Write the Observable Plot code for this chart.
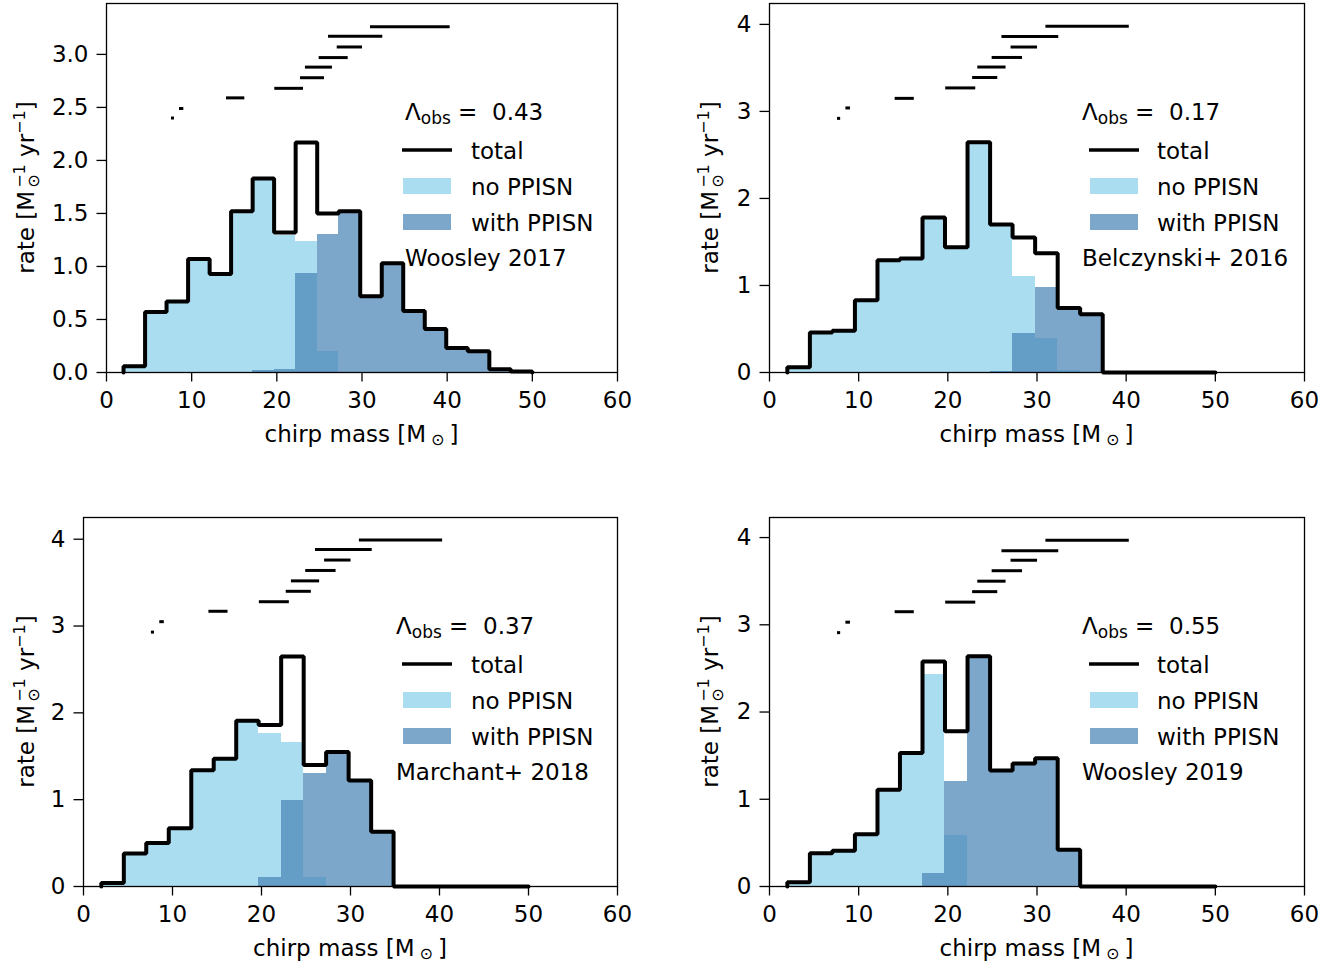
<!DOCTYPE html>
<html><head><meta charset="utf-8">
<script src="https://cdn.jsdelivr.net/npm/d3@7"></script>
<script src="https://cdn.jsdelivr.net/npm/@observablehq/plot@0.6"></script>
<style>
body{margin:0;background:#fff;}
#fig{position:relative;width:1336px;height:966px;font-family:"DejaVu Sans",sans-serif;background:#fff;}
#fig svg{position:absolute;left:0;top:0;overflow:visible;}
</style></head><body><div id="fig"></div>
<script>
// ---- data ----
const binEdges = [2.00, 4.53, 7.05, 9.58, 12.11, 14.63, 17.16, 19.68, 22.21, 24.74, 27.26, 29.79, 32.32, 34.84, 37.37, 39.89, 42.42, 44.95, 47.47, 50.00];

const noPPISN_W17   = [0.06, 0.57, 0.67, 1.07, 0.93, 1.52, 1.81, 1.29, 1.24, 0.20, 0, 0, 0, 0, 0, 0, 0, 0, 0];
const withPPISN_W17 = [0, 0, 0, 0, 0, 0, 0.02, 0.03, 0.93, 1.30, 1.52, 0.72, 1.03, 0.58, 0.41, 0.23, 0.20, 0.03, 0.01];

const noPPISN_B16   = [0.06, 0.46, 0.48, 0.83, 1.29, 1.31, 1.78, 1.44, 2.64, 1.69, 1.10, 0.39, 0.02, 0, 0, 0, 0, 0, 0];
const withPPISN_B16 = [0, 0, 0, 0, 0, 0, 0, 0, 0.005, 0.01, 0.45, 0.98, 0.72, 0.67, 0, 0, 0, 0, 0];

const noPPISN_M18   = [0.04, 0.38, 0.50, 0.67, 1.34, 1.47, 1.91, 1.76, 1.66, 0.10, 0, 0, 0, 0, 0, 0, 0, 0, 0];
const withPPISN_M18 = [0, 0, 0, 0, 0, 0, 0, 0.10, 0.99, 1.30, 1.55, 1.22, 0.63, 0, 0, 0, 0, 0, 0];

const noPPISN_W19   = [0.05, 0.38, 0.41, 0.60, 1.11, 1.53, 2.43, 0.58, 0, 0, 0, 0, 0, 0, 0, 0, 0, 0, 0];
const withPPISN_W19 = [0, 0, 0, 0, 0, 0, 0.15, 1.20, 2.64, 1.33, 1.41, 1.47, 0.42, 0, 0, 0, 0, 0, 0];

// observed events: chirp-mass intervals
const eventLo = [7.63, 8.57, 14.09, 19.76, 22.78, 23.36, 24.97, 27.09, 26.07, 31.00];
const eventHi = [7.98, 9.08, 16.24, 23.13, 25.60, 26.53, 28.38, 30.06, 32.44, 40.35];
const eventY_W17 = [2.40, 2.49, 2.59, 2.68, 2.78, 2.88, 2.97, 3.07, 3.17, 3.26];
const eventY_B16 = [2.92, 3.04, 3.15, 3.27, 3.39, 3.51, 3.62, 3.74, 3.86, 3.98];
const eventY_M18 = [2.93, 3.05, 3.17, 3.28, 3.40, 3.52, 3.64, 3.76, 3.88, 3.99];
const eventY_W19 = [2.91, 3.03, 3.15, 3.26, 3.38, 3.50, 3.62, 3.74, 3.85, 3.97];

const xTicks = [0, 10, 20, 30, 40, 50, 60];
const yTicksW17 = [0, 0.5, 1.0, 1.5, 2.0, 2.5, 3.0];
const yTicksOther = [0, 1, 2, 3, 4];
const lambdaObs = ["0.43", "0.17", "0.37", "0.55"];
const modelNames = ["Woosley 2017", "Belczynski+ 2016", "Marchant+ 2018", "Woosley 2019"];
const legendLabels = ["total", "no PPISN", "with PPISN"];

// ---- layout (page pixels) ----
const W = 1336, H = 966;
const panels = [
  {no: noPPISN_W17, wi: withPPISN_W17, ev: eventY_W17, yMax: 3.48, yTicks: yTicksW17, fmt: d3.format(".1f"),
   fl: 106, fr: 617, ft: 3, fb: 372, ylx: 34, lgTitle: 405, lgHandle: 403, lgText: 471, lgTop: 0},
  {no: noPPISN_B16, wi: withPPISN_B16, ev: eventY_B16, yMax: 4.24, yTicks: yTicksOther, fmt: d3.format("d"),
   fl: 769, fr: 1304, ft: 3, fb: 372, ylx: 718, lgTitle: 1082, lgHandle: 1090, lgText: 1157, lgTop: 0},
  {no: noPPISN_M18, wi: withPPISN_M18, ev: eventY_M18, yMax: 4.25, yTicks: yTicksOther, fmt: d3.format("d"),
   fl: 83, fr: 617, ft: 517, fb: 886, ylx: 34, lgTitle: 396, lgHandle: 403, lgText: 471, lgTop: 514},
  {no: noPPISN_W19, wi: withPPISN_W19, ev: eventY_W19, yMax: 4.23, yTicks: yTicksOther, fmt: d3.format("d"),
   fl: 769, fr: 1304, ft: 517, fb: 886, ylx: 718, lgTitle: 1082, lgHandle: 1090, lgText: 1157, lgTop: 514}
];

const fig = document.getElementById("fig");
const FS = 23;

panels.forEach((p, k) => {
  const bins = binEdges.slice(0, -1).map((x1, i) => ({x1, x2: binEdges[i + 1], no: p.no[i], wi: p.wi[i], total: p.no[i] + p.wi[i]}));
  const outline = [{x: binEdges[0], y: 0}]
    .concat(bins.map(b => ({x: b.x1, y: b.total})))
    .concat([{x: binEdges[binEdges.length - 1], y: bins[bins.length - 1].total}, {x: binEdges[binEdges.length - 1], y: 0}]);
  const events = eventLo.map((lo, i) => ({lo, hi: eventHi[i], y: p.ev[i]}));

  const svg = Plot.plot({
    width: W, height: H,
    marginLeft: p.fl, marginRight: W - p.fr, marginTop: p.ft, marginBottom: H - p.fb,
    style: {fontFamily: "DejaVu Sans", fontSize: FS + "px", color: "black", background: "transparent", overflow: "visible"},
    x: {domain: [0, 60]},
    y: {domain: [0, p.yMax]},
    marks: [
      Plot.rect(bins, {x1: "x1", x2: "x2", y1: 0, y2: "no", fill: "skyblue", fillOpacity: 0.7, shapeRendering: "crispEdges"}),
      Plot.rect(bins, {x1: "x1", x2: "x2", y1: 0, y2: "wi", fill: "steelblue", fillOpacity: 0.7, shapeRendering: "crispEdges"}),
      Plot.line(outline, {x: "x", y: "y", curve: "step-after", stroke: "black", strokeWidth: 4, strokeLinejoin: "miter"}),
      Plot.ruleY(events, {x1: "lo", x2: "hi", y: "y", stroke: "black", strokeWidth: 3}),
      Plot.frame({stroke: "black", strokeWidth: 1.3}),
      Plot.axisX({ticks: xTicks, tickFormat: d => String(d), label: null, tickSize: 9.5, tickPadding: 10, strokeWidth: 1.3, fontSize: FS}),
      Plot.axisY({ticks: p.yTicks, tickFormat: p.fmt, label: null, tickSize: 9.5, tickPadding: 8.5, strokeWidth: 1.3, fontSize: FS})
    ]
  });
  fig.appendChild(svg);
  const s = d3.select(svg);
  const g = s.append("g").attr("font-family", "DejaVu Sans").attr("fill", "black").attr("text-anchor", "start");

  // x label
  const cx = (p.fl + p.fr) / 2;
  const xl = g.append("text").attr("x", cx).attr("y", p.fb + 70).attr("text-anchor", "middle").attr("font-size", FS);
  xl.append("tspan").text("chirp mass [M");
  xl.append("tspan").attr("font-size", 16).attr("dx", 5).attr("dy", 3).text("⊙");
  xl.append("tspan").attr("dx", 5).attr("dy", -3).text("]");

  // y label (rotated)
  const cy = (p.ft + p.fb) / 2;
  const yl = g.append("text").attr("transform", `translate(${p.ylx},${cy}) rotate(-90)`).attr("text-anchor", "middle").attr("font-size", FS);
  yl.append("tspan").text("rate [M");
  const od = yl.append("tspan").attr("font-size", 16).attr("dx", 3).attr("dy", 5).text("⊙");
  const wod = od.node().getComputedTextLength();
  yl.append("tspan").attr("font-size", 16).attr("dx", -wod).attr("dy", -14).text("−1");
  yl.append("tspan").attr("dy", 9).text(" yr");
  yl.append("tspan").attr("font-size", 16).attr("dy", -9).text("−1");
  yl.append("tspan").attr("dy", 9).text("]");

  // legend
  const t0 = p.lgTop;
  const title = g.append("text").attr("x", p.lgTitle).attr("y", 119.5 + t0).attr("font-size", FS);
  title.append("tspan").text("Λ");
  title.append("tspan").attr("font-size", 17).attr("dy", 4).text("obs");
  title.append("tspan").attr("dy", -4).text(" =  " + lambdaObs[k]);

  g.append("line").attr("x1", p.lgHandle - 1).attr("x2", p.lgHandle + 49).attr("y1", 150 + t0).attr("y2", 150 + t0)
    .attr("stroke", "black").attr("stroke-width", 3.6);
  g.append("text").attr("x", p.lgText).attr("y", 158.5 + t0).attr("font-size", FS).text(legendLabels[0]);
  g.append("rect").attr("x", p.lgHandle).attr("y", 178 + t0).attr("width", 48).attr("height", 16)
    .attr("fill", "skyblue").attr("fill-opacity", 0.7);
  g.append("text").attr("x", p.lgText).attr("y", 195 + t0).attr("font-size", FS).text(legendLabels[1]);
  g.append("rect").attr("x", p.lgHandle).attr("y", 214 + t0).attr("width", 48).attr("height", 16)
    .attr("fill", "steelblue").attr("fill-opacity", 0.7);
  g.append("text").attr("x", p.lgText).attr("y", 230.5 + t0).attr("font-size", FS).text(legendLabels[2]);
  g.append("text").attr("x", p.lgTitle).attr("y", 266 + t0).attr("font-size", FS).text(modelNames[k]);
});
</script>
</body></html>
